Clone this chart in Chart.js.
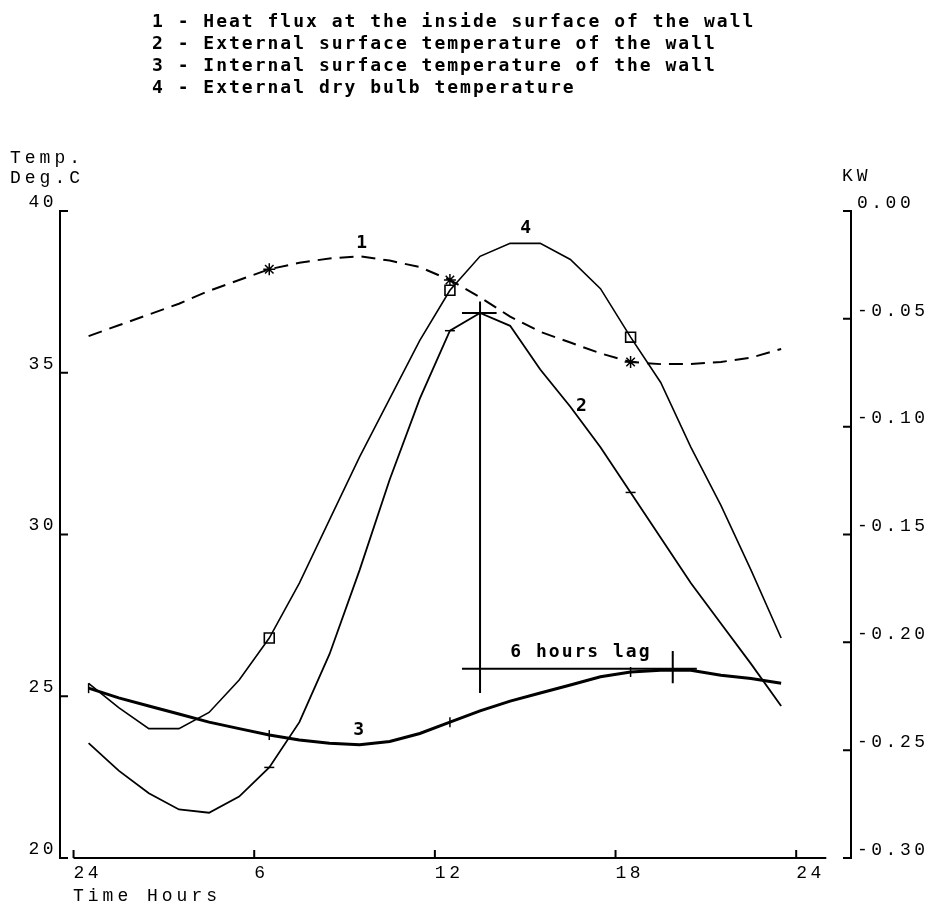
<!DOCTYPE html>
<html>
<head>
<meta charset="utf-8">
<script src="https://cdn.jsdelivr.net/npm/chart.js@4/dist/chart.umd.min.js"></script>
<style>
  html, body { margin: 0; padding: 0; background: #fff; }
  #wrap { width: 932px; height: 906px; }
</style>
</head>
<body>
<div id="wrap"><canvas id="grafico" width="932" height="906"></canvas></div>
<script>
// Valores (pontos a cada hora, na meia hora)
const hours = [0.5, 1.5, 2.5, 3.5, 4.5, 5.5, 6.5, 7.5, 8.5, 9.5, 10.5, 11.5,
  12.5, 13.5, 14.5, 15.5, 16.5, 17.5, 18.5, 19.5, 20.5, 21.5, 22.5, 23.5];
// 1 - fluxo de calor (kW, eixo da direita)
const heatFlux = [-0.058, -0.053, -0.048, -0.043, -0.037, -0.032, -0.027, -0.024, -0.022, -0.021, -0.023, -0.026,
  -0.032, -0.040, -0.049, -0.056, -0.061, -0.066, -0.070, -0.071, -0.071, -0.070, -0.068, -0.064];
// 2 - temperatura da superfície externa
const extSurface = [23.55, 22.7, 22.0, 21.5, 21.4, 21.9, 22.8, 24.2, 26.3, 28.9, 31.7, 34.2,
  36.3, 36.85, 36.45, 35.1, 33.95, 32.7, 31.3, 29.9, 28.5, 27.25, 26.0, 24.7];
// 3 - temperatura da superfície interna
const intSurface = [25.25, 24.95, 24.7, 24.45, 24.2, 24.0, 23.8, 23.65, 23.55, 23.5, 23.6, 23.85,
  24.2, 24.55, 24.85, 25.1, 25.35, 25.6, 25.75, 25.8, 25.8, 25.65, 25.55, 25.4];
// 4 - temperatura de bulbo seco externa
const dryBulb = [25.4, 24.65, 24.0, 24.0, 24.5, 25.5, 26.8, 28.5, 30.45, 32.4, 34.2, 36.0,
  37.55, 38.6, 39.0, 39.0, 38.5, 37.6, 36.1, 34.7, 32.7, 30.9, 28.9, 26.8];

const markerHours = [6.5, 12.5, 18.5];

const xTicks = [0, 6, 12, 18, 24];
const xTickLabels = ['24', '6', '12', '18', '24'];
const leftTicks = [20, 25, 30, 35, 40];
const rightTicks = [-0.30, -0.25, -0.20, -0.15, -0.10, -0.05, 0.00];
const xAxisSpan = [0, 25];

const legendLines = [
  '1 - Heat flux at the inside surface of the wall',
  '2 - External surface temperature of the wall',
  '3 - Internal surface temperature of the wall',
  '4 - External dry bulb temperature'
];

// Anotação do atraso de 6 horas (em unidades de hora / graus)
const lagPeakHour = 13.5;
const lagVertical = [[13.5, 37.2], [13.5, 25.1]];
const lagCross = [[12.9, 36.85], [14.05, 36.85]];
const lagHorizontal = [[12.9, 25.85], [20.7, 25.85]];
const lagEndTick = [[19.9, 26.4], [19.9, 25.4]];
const lagText = { text: '6 hours lag', x: 16.85, y: 26.35 };
const curveLabels = [
  { text: '1', x: 9.6, y: 39.0 },
  { text: '2', x: 16.9, y: 33.95 },
  { text: '3', x: 9.5, y: 23.95 },
  { text: '4', x: 15.05, y: 39.45 }
];

const toXY = (xs, ys) => xs.map((h, i) => ({ x: h, y: ys[i] }));
const pairs = p => p.map(([a, b]) => ({ x: a, y: b }));
const isMarker = h => markerHours.includes(h);

function markerRadius(r, extra) {
  return c => {
    const h = hours[c.dataIndex];
    return (isMarker(h) || (extra && extra.includes(h))) ? r : 0;
  };
}

const thinFont = '"Liberation Mono", monospace';
const boldFont = '"DejaVu Sans Mono", monospace';

function simpleLine(data, width) {
  return {
    data: pairs(data), yAxisID: 'y', borderColor: '#000', borderWidth: width,
    pointRadius: 0, tension: 0, fill: false
  };
}

const decoracao = {
  id: 'decoracao',
  beforeDraw(chart) {
    chart.ctx.letterSpacing = '3.5px';
  },
  afterDraw(chart) {
    const ctx = chart.ctx;
    const area = chart.chartArea;
    const sx = chart.scales.x, sy = chart.scales.y, sr = chart.scales.yR;
    ctx.save();
    ctx.strokeStyle = '#000';
    ctx.lineWidth = 2;
    ctx.beginPath();
    // eixo das horas
    ctx.moveTo(sx.getPixelForValue(xAxisSpan[0]), area.bottom);
    ctx.lineTo(sx.getPixelForValue(xAxisSpan[1]), area.bottom);
    // marcas voltadas para dentro
    xTicks.forEach(v => {
      const px = sx.getPixelForValue(v);
      ctx.moveTo(px, area.bottom);
      ctx.lineTo(px, area.bottom - 8);
    });
    leftTicks.forEach(v => {
      const py = sy.getPixelForValue(v);
      ctx.moveTo(area.left, py);
      ctx.lineTo(area.left + 8, py);
    });
    rightTicks.forEach(v => {
      const py = sr.getPixelForValue(v);
      ctx.moveTo(area.right, py);
      ctx.lineTo(area.right - 8, py);
    });
    ctx.stroke();

    ctx.fillStyle = '#000';
    ctx.textBaseline = 'middle';
    ctx.textAlign = 'left';

    // títulos dos eixos
    ctx.letterSpacing = '4px';
    ctx.font = '18px ' + thinFont;
    ctx.fillText('Temp.', 10, 158);
    ctx.fillText('Deg.C', 10, 178);
    ctx.fillText('KW', 842, 176);
    ctx.fillText('Time Hours', 73, 896);

    // legenda
    ctx.letterSpacing = '2px';
    ctx.font = 'bold 18px ' + boldFont;
    legendLines.forEach((t, i) => ctx.fillText(t, 152, 22 + i * 22));

    // números das curvas e texto do atraso
    ctx.textAlign = 'center';
    curveLabels.forEach(l => {
      ctx.fillText(l.text, sx.getPixelForValue(l.x), sy.getPixelForValue(l.y));
    });
    ctx.fillText(lagText.text, sx.getPixelForValue(lagText.x), sy.getPixelForValue(lagText.y));
    ctx.letterSpacing = '0px';
    ctx.restore();
  }
};

new Chart(document.getElementById('grafico'), {
  type: 'line',
  data: {
    datasets: [
      {
        label: 'Heat flux',
        data: toXY(hours, heatFlux),
        yAxisID: 'yR',
        borderColor: '#000',
        borderWidth: 2,
        borderDash: [14, 8],
        tension: 0,
        pointStyle: 'star',
        pointRadius: markerRadius(6),
        pointBorderColor: '#000',
        pointBorderWidth: 1.5,
        fill: false
      },
      {
        label: 'External surface',
        data: toXY(hours, extSurface),
        yAxisID: 'y',
        borderColor: '#000',
        borderWidth: 1.8,
        tension: 0,
        pointStyle: 'line',
        pointRadius: markerRadius(5),
        pointBorderColor: '#000',
        pointBorderWidth: 1.5,
        fill: false
      },
      {
        label: 'Internal surface',
        data: toXY(hours, intSurface),
        yAxisID: 'y',
        borderColor: '#000',
        borderWidth: 3,
        tension: 0,
        pointStyle: 'line',
        pointRotation: 90,
        pointRadius: markerRadius(5, [0.5]),
        pointBorderColor: '#000',
        pointBorderWidth: 1.5,
        fill: false
      },
      {
        label: 'Dry bulb',
        data: toXY(hours, dryBulb),
        yAxisID: 'y',
        borderColor: '#000',
        borderWidth: 1.6,
        tension: 0,
        pointStyle: 'rect',
        pointRadius: markerRadius(7),
        pointBorderColor: '#000',
        pointBackgroundColor: 'rgba(0,0,0,0)',
        pointBorderWidth: 1.6,
        fill: false
      },
      simpleLine(lagVertical, 2),
      simpleLine(lagCross, 2),
      simpleLine(lagHorizontal, 2),
      simpleLine(lagEndTick, 2)
    ]
  },
  options: {
    responsive: false,
    devicePixelRatio: 1,
    animation: false,
    layout: { padding: { top: 211, left: 0, right: 0, bottom: 0 } },
    plugins: { legend: { display: false }, tooltip: { enabled: false } },
    scales: {
      x: {
        type: 'linear',
        min: -0.45,
        max: 25.82,
        afterBuildTicks: s => { s.ticks = xTicks.map(v => ({ value: v })); },
        afterFit: s => { s.height = 48; },
        grid: { display: false, drawTicks: false },
        border: { display: false },
        ticks: {
          align: 'start',
          padding: 4,
          color: '#000',
          font: { family: thinFont, size: 18 },
          callback: v => xTickLabels[xTicks.indexOf(v)]
        }
      },
      y: {
        position: 'left',
        min: 20,
        max: 40,
        afterBuildTicks: s => { s.ticks = leftTicks.map(v => ({ value: v })); },
        afterFit: s => { s.width = 60; },
        grid: { display: false, drawTicks: false },
        border: { display: true, color: '#000', width: 2 },
        ticks: {
          padding: 3,
          labelOffset: -9,
          color: '#000',
          font: { family: thinFont, size: 18 },
          callback: v => String(v)
        }
      },
      yR: {
        position: 'right',
        min: -0.30,
        max: 0,
        afterBuildTicks: s => { s.ticks = rightTicks.map(v => ({ value: v })); },
        afterFit: s => { s.width = 81; },
        grid: { display: false, drawTicks: false },
        border: { display: true, color: '#000', width: 2 },
        ticks: {
          padding: 6,
          labelOffset: -8,
          color: '#000',
          font: { family: thinFont, size: 18 },
          callback: v => Math.abs(v) < 1e-9 ? '0.00' : v.toFixed(2)
        }
      }
    }
  },
  plugins: [decoracao]
});
</script>
</body>
</html>
